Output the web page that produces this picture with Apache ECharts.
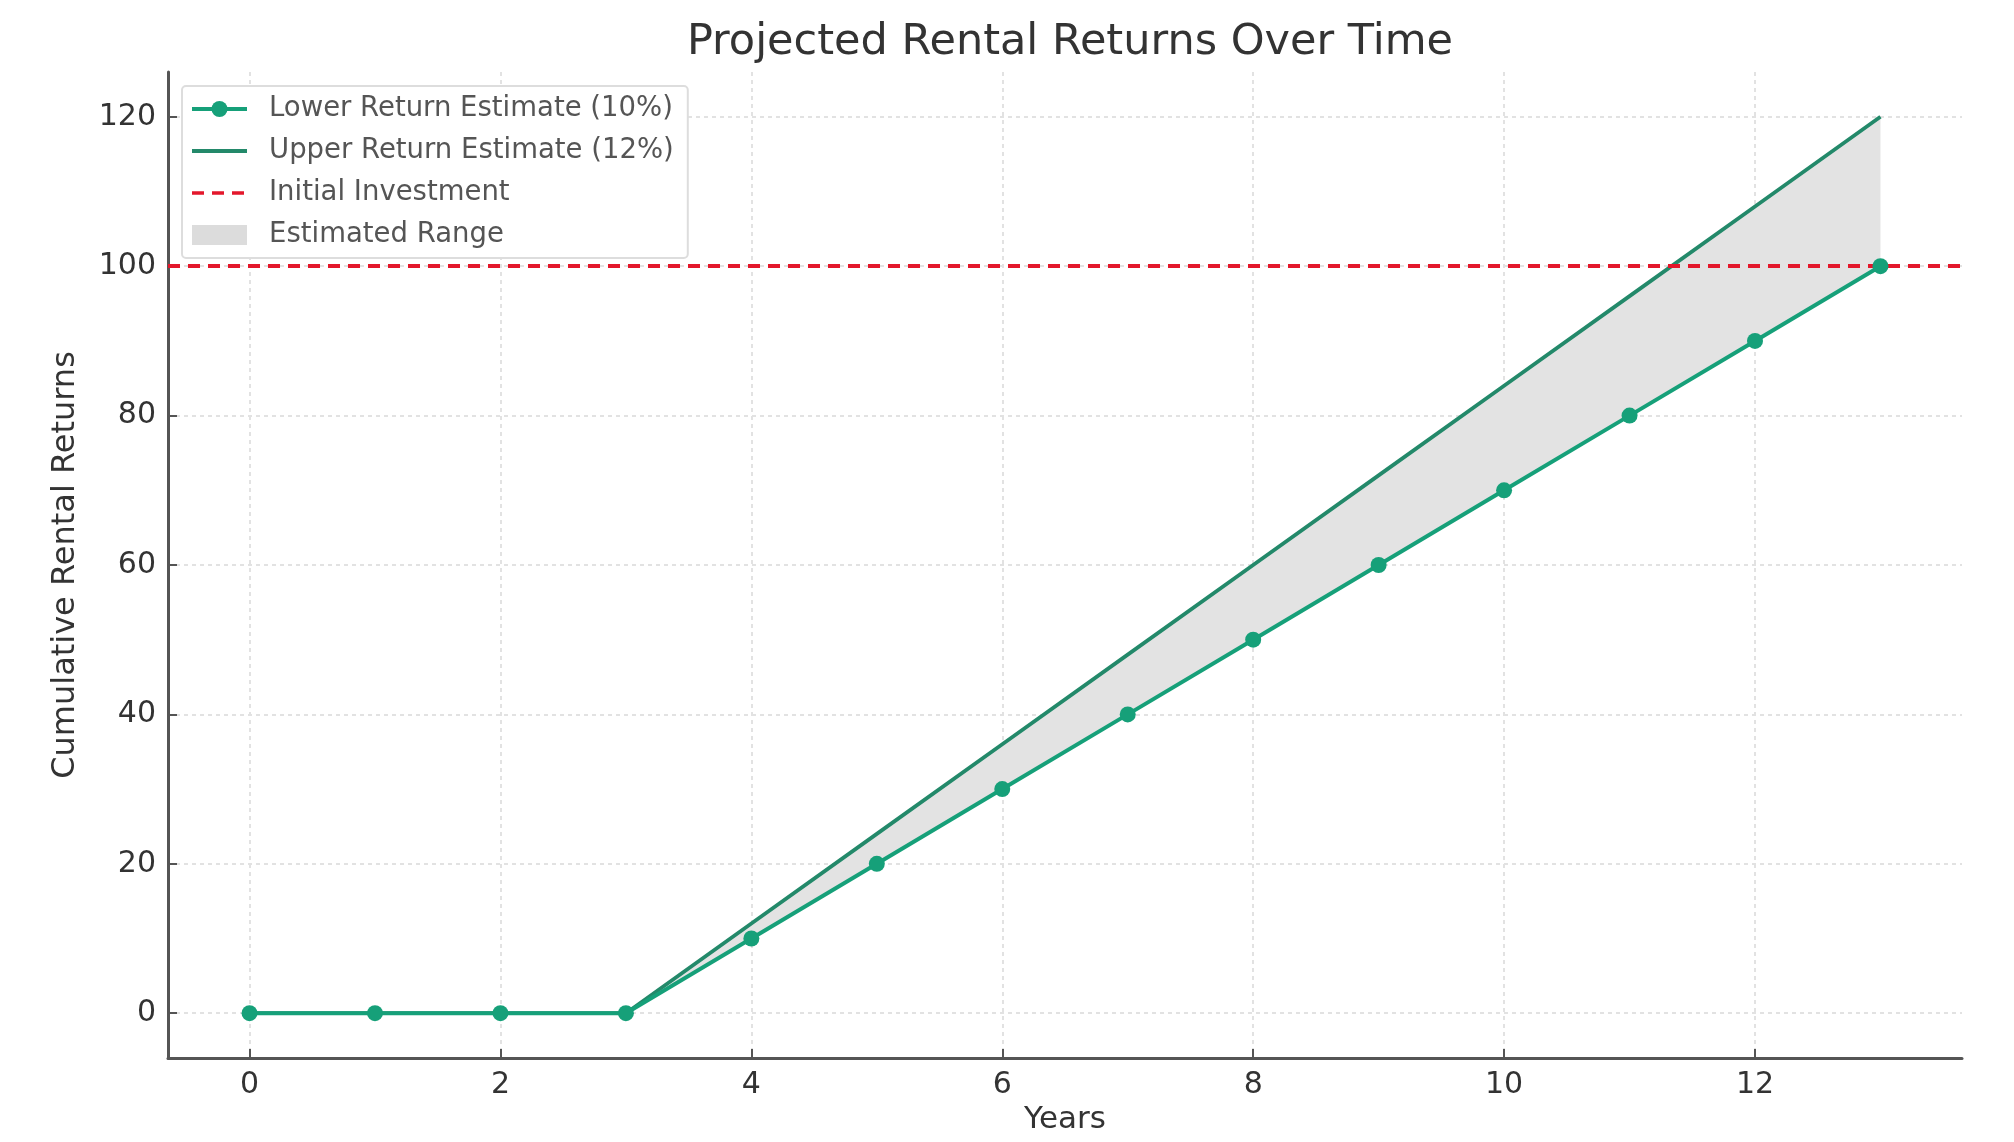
<!DOCTYPE html>
<html lang="en">
<head>
    <meta charset="UTF-8">
    <title>Projected Rental Returns Over Time</title>
</head>
<body style="margin:0;background:#fff;">
<div id="chartBox" style="width: 2014px;height: 1142px;"></div>
<script type="text/javascript" src="https://cdn.jsdelivr.net/npm/echarts@6/dist/echarts.min.js"></script>
<script type="text/javascript">
    // data
    var years = [0, 1, 2, 3, 4, 5, 6, 7, 8, 9, 10, 11, 12, 13];
    var lowerReturns = [0, 0, 0, 0, 10, 20, 30, 40, 50, 60, 70, 80, 90, 100];
    var upperReturns = [0, 0, 0, 0, 12, 24, 36, 48, 60, 72, 84, 96, 108, 120];
    var initialInvestment = 100;
    var xTicks = [0, 2, 4, 6, 8, 10, 12];
    var yTicks = [0, 20, 40, 60, 80, 100, 120];

    var font = 'DejaVu Sans';

    function pairs(vals) {
        return years.map(function (y, i) { return [y, vals[i]]; });
    }

    // grey band between the two estimates, drawn once through the axes
    function renderRange(params, api) {
        if (params.dataIndex !== 0) return;
        var pts = [];
        for (var i = 0; i < years.length; i++) {
            pts.push(api.coord([years[i], upperReturns[i]]));
        }
        for (var j = years.length - 1; j >= 0; j--) {
            pts.push(api.coord([years[j], lowerReturns[j]]));
        }
        return {
            type: 'polygon',
            shape: { points: pts },
            style: { fill: '#e3e3e3' }
        };
    }

    var myChart = echarts.init(document.getElementById("chartBox"));
    myChart.setOption({
        animation: false,
        backgroundColor: '#fff',
        title: {
            text: 'Projected Rental Returns Over Time',
            left: 1065,
            textAlign: 'center',
            top: 16,
            textStyle: { fontFamily: font, fontSize: 43, fontWeight: 'normal', color: '#333' }
        },
        legend: {
            orient: 'vertical',
            left: 182,
            top: 86,
            padding: [9, 14, 9, 8],
            itemWidth: 55,
            itemHeight: 20,
            itemGap: 14,
            backgroundColor: '#fff',
            borderColor: '#dddddd',
            borderWidth: 2,
            borderRadius: 4,
            textStyle: { fontFamily: font, fontSize: 27.5, color: '#555', padding: [0, 0, 0, 17] },
            data: [
                { name: 'Lower Return Estimate (10%)', lineStyle: { width: 4 } },
                { name: 'Upper Return Estimate (12%)', lineStyle: { width: 4 }, itemStyle: { opacity: 0 } },
                { name: 'Initial Investment', lineStyle: { width: 3.5 }, itemStyle: { opacity: 0 } },
                { name: 'Estimated Range', icon: 'rect' }
            ]
        },
        grid: { left: 168, right: 52, top: 72, bottom: 84 },
        xAxis: {
            type: 'value',
            min: -0.65,
            max: 13.65,
            name: 'Years',
            nameLocation: 'middle',
            nameGap: 46,
            nameTextStyle: { fontFamily: font, fontSize: 31, color: '#333' },
            axisLine: { onZero: false, lineStyle: { color: '#555', width: 3 } },
            axisTick: { inside: true, length: 9, customValues: xTicks, lineStyle: { color: '#555', width: 2 } },
            axisLabel: { customValues: xTicks, fontFamily: font, fontSize: 30, color: '#333', margin: 12 },
            splitLine: { show: true, lineStyle: { color: '#e2e2e2', width: 2, type: [4, 4] } }
        },
        yAxis: {
            type: 'value',
            min: -6,
            max: 126,
            name: 'Cumulative Rental Returns',
            nameLocation: 'middle',
            nameGap: 86,
            nameTextStyle: { fontFamily: font, fontSize: 32, color: '#333' },
            axisLine: { show: true, onZero: false, lineStyle: { color: '#555', width: 3 } },
            axisTick: { show: true, inside: true, length: 9, customValues: yTicks, lineStyle: { color: '#555', width: 2 } },
            axisLabel: { customValues: yTicks, fontFamily: font, fontSize: 30, color: '#333', margin: 12 },
            splitLine: { show: true, lineStyle: { color: '#e2e2e2', width: 2, type: [4, 4] } }
        },
        series: [
            {
                name: 'Estimated Range',
                type: 'custom',
                data: pairs(upperReturns),
                renderItem: renderRange,
                itemStyle: { color: '#dcdcdc' },
                silent: true,
                z: 1
            },
            {
                name: 'Initial Investment',
                type: 'line',
                data: [],
                symbol: 'none',
                itemStyle: { color: '#e3172b' },
                lineStyle: { color: '#e3172b', width: 3.5, type: [12, 8] },
                markLine: {
                    silent: true,
                    symbol: 'none',
                    label: { show: false },
                    lineStyle: { color: '#e3172b', width: 4, type: [12, 8] },
                    data: [{ yAxis: initialInvestment }]
                },
                z: 3
            },
            {
                name: 'Upper Return Estimate (12%)',
                type: 'line',
                data: pairs(upperReturns),
                symbol: 'none',
                itemStyle: { color: '#23896a' },
                lineStyle: { color: '#23896a', width: 3.8 },
                z: 4
            },
            {
                name: 'Lower Return Estimate (10%)',
                type: 'line',
                data: pairs(lowerReturns),
                symbol: 'circle',
                symbolSize: 16,
                showAllSymbol: true,
                itemStyle: { color: '#16a079' },
                lineStyle: { color: '#16a079', width: 4 },
                z: 5
            }
        ]
    });
</script>
</body>
</html>
